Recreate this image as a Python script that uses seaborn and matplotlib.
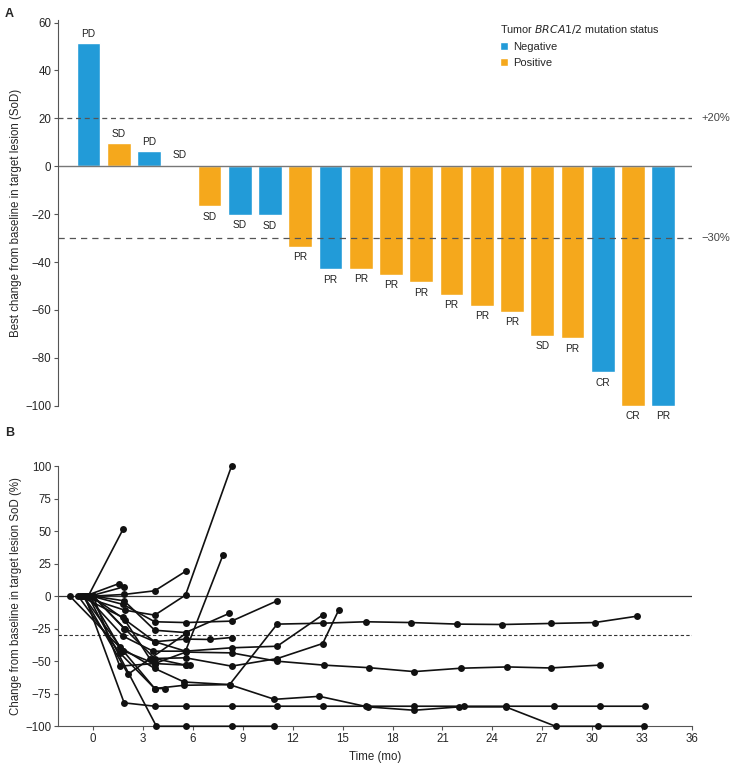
import numpy as np
import pandas as pd
import matplotlib
matplotlib.use("Agg")
import matplotlib.pyplot as plt
import seaborn as sns

# --- dados: painel A (waterfall) ---
best_change = [51.5, 9.8, 6.3, 0.7, -16.6, -20.2, -20.4, -33.5, -43.0, -42.7,
               -45.3, -48.5, -53.7, -58.3, -60.8, -70.8, -71.8, -86.0, -100.0, -100.0]
status = ["Negative", "Positive", "Negative", "Positive", "Positive", "Negative", "Negative",
          "Positive", "Negative", "Positive", "Positive", "Positive", "Positive", "Positive",
          "Positive", "Positive", "Positive", "Negative", "Positive", "Negative"]
response = ["PD", "SD", "PD", "SD", "SD", "SD", "SD", "PR", "PR", "PR",
            "PR", "PR", "PR", "PR", "PR", "SD", "PR", "CR", "CR", "PR"]

# --- dados: painel B (spider plot), um par tempo/valor por paciente ---
spider_t = [
    [-0.3, 1.8],
    [-0.5, 1.56],
    [-0.2, 1.86],
    [0.0, 1.86, 3.7, 5.57],
    [-0.7, 1.9, 3.7, 5.55, 8.32],
    [-0.1, 1.8, 3.7, 5.55, 8.32, 11.06],
    [0.0, 1.86, 3.7, 5.55, 8.17],
    [-0.4, 1.8, 3.6, 5.55, 7.8],
    [0.0, 1.86, 3.7, 5.57, 7.0, 8.32],
    [-0.6, 2.1, 5.57],
    [-0.9, 1.6, 3.7, 4.3],
    [-1.4, 1.8, 3.7, 5.47, 8.2, 10.9, 13.6, 16.5, 19.3, 22.0, 24.8, 27.8, 30.35, 33.1],
    [-0.2, 1.6, 3.7, 5.47, 8.2, 11.06, 13.8, 16.4, 19.1, 21.9, 24.6, 27.5, 30.15, 32.7],
    [-0.5, 1.86, 3.7, 5.55, 8.32, 11.06, 13.8, 16.4, 19.3, 22.3, 24.8, 27.7, 30.5, 33.2],
    [-0.3, 3.8, 5.55, 8.32, 10.9],
    [0.0, 1.9, 3.7, 5.55, 5.85],
    [-0.1, 1.9, 3.7, 5.55, 8.32, 11.06, 13.8],
    [-0.8, 1.8, 3.4, 5.55, 8.32, 11.06, 13.8, 14.75],
    [-0.6, 1.8, 3.7, 5.57, 8.32, 11.06, 13.85, 16.6, 19.3, 22.1, 24.9, 27.5, 30.45],
    [0.0, 1.6, 3.7, 5.55],
]
spider_y = [
    [0, 51.5],
    [0, 9.7],
    [0, 7.2],
    [0, 1.3, 4.1, 19.2],
    [0, -10.8, -14.6, 0.8, 100],
    [0, -6.4, -19.7, -20.3, -19.2, -3.6],
    [0, -3.6, -26.2, -28, -13.3],
    [0, -30.8, -42.3, -42.3, 31.5],
    [0, -24.9, -35, -33, -33.3, -31.8],
    [0, -60, -28.7],
    [0, -43.6, -71, -71],
    [0, -42, -71, -68.5, -68, -79.3, -77, -85.1, -87.7, -85.1, -85.1, -100, -100, -100],
    [0, -39, -55.6, -66, -68, -21.5, -20.8, -19.7, -20.3, -21.5, -21.8, -21, -20.3, -15.4],
    [0, -82, -84.6, -84.6, -84.6, -84.6, -84.6, -84.6, -84.6, -84.6, -84.6, -84.6, -84.6, -84.6],
    [0, -100, -100, -100, -100],
    [0, -25, -48, -53, -53],
    [0, -18, -35, -42.3, -39.7, -38.5, -14.4],
    [0, -16.4, -48, -47.4, -53.8, -48, -36.4, -11],
    [0, -42, -51.8, -43, -43.6, -50, -53, -55, -58, -55.4, -54.4, -55.2, -53],
    [0, -53.8, -51.8, -53],
]

cores = {"Negative": "#229BD8", "Positive": "#F5A81C"}

sns.set_theme(style="white")
plt.rcParams["font.family"] = ["Liberation Sans", "DejaVu Sans"]
plt.rcParams["axes.unicode_minus"] = True

fig = plt.figure(figsize=(7.33, 7.7), dpi=100)
axA = fig.add_axes([0.0795, 0.473, 0.8645, 0.5008])
axB = fig.add_axes([0.0795, 0.0568, 0.8645, 0.338])

# --- painel A ---
df_a = pd.DataFrame({"paciente": range(len(best_change)), "change": best_change,
                     "status": status, "resp": response})
sns.barplot(data=df_a, x="paciente", y="change", hue="status", dodge=False,
            palette=cores, width=0.78, saturation=1, ax=axA,
            hue_order=["Negative", "Positive"])
for i, (v, r) in enumerate(zip(best_change, response)):
    if v >= 0:
        axA.annotate(r, (i, v), xytext=(0, 3), textcoords="offset points",
                     ha="center", va="bottom", fontsize=7.3, color="#222222")
    else:
        axA.annotate(r, (i, v), xytext=(0, -4), textcoords="offset points",
                     ha="center", va="top", fontsize=7.3, color="#222222")

axA.set_xlim(-1.0, 19.95)
axA.set_ylim(-100, 61)
axA.axhline(0, color="#777777", linewidth=1)
axA.axhline(20, color="#555555", linewidth=0.9, linestyle=(0, (4, 3)))
axA.axhline(-30, color="#555555", linewidth=0.9, linestyle=(0, (5, 4)))
axA.text(1.015, 20, "+20%", transform=axA.get_yaxis_transform(), va="center",
         ha="left", fontsize=8, color="#444444")
axA.text(1.015, -30, "\u221230%", transform=axA.get_yaxis_transform(), va="center",
         ha="left", fontsize=8, color="#444444")
axA.set_yticks(np.arange(-100, 61, 20))
axA.set_xticks([])
axA.set_xlabel("")
axA.set_ylabel("Best change from baseline in target lesion (SoD)", fontsize=8.3, labelpad=2)
axA.tick_params(axis="y", labelsize=8.3, length=3, width=0.8, direction="out",
                color="#555555", left=True, pad=2)
for s in ["top", "right", "bottom"]:
    axA.spines[s].set_visible(False)
axA.spines["left"].set_color("#555555")
axA.spines["left"].set_linewidth(0.8)

leg = axA.legend(title="Tumor $\\it{BRCA1/2}$ mutation status", loc="upper left",
                 bbox_to_anchor=(0.69, 1.005), frameon=False, fontsize=8,
                 title_fontsize=7.8, handlelength=0.7, handleheight=0.7,
                 handletextpad=0.45, labelspacing=0.55, borderaxespad=0)
leg._legend_box.align = "left"

# --- painel B ---
linhas = []
for pid, (ts, ys) in enumerate(zip(spider_t, spider_y)):
    for t, y in zip(ts, ys):
        linhas.append({"pid": pid, "t": t, "y": y})
df_b = pd.DataFrame(linhas)

sns.lineplot(data=df_b, x="t", y="y", units="pid", estimator=None, sort=False,
             color="#111111", linewidth=1.2, marker="o", markersize=5,
             markeredgewidth=0, ax=axB, clip_on=False, zorder=3)
axB.axhline(0, color="#333333", linewidth=0.9, zorder=0)
axB.axhline(-30, color="#333333", linewidth=0.8, linestyle=(0, (3, 2)), zorder=0)
axB.set_xlim(-2.1, 36)
axB.set_ylim(-100, 100)
axB.set_xticks(np.arange(0, 37, 3))
axB.set_yticks(np.arange(-100, 101, 25))
axB.set_xlabel("Time (mo)", fontsize=8.3, labelpad=4)
axB.set_ylabel("Change from baseline in target lesion SoD (%)", fontsize=8.3, labelpad=2)
axB.tick_params(labelsize=8.3, length=3, width=0.8, direction="out",
                color="#555555", left=True, bottom=True, pad=2)
for s in ["top", "right"]:
    axB.spines[s].set_visible(False)
for s in ["left", "bottom"]:
    axB.spines[s].set_color("#555555")
    axB.spines[s].set_linewidth(0.8)

fig.text(0.007, 0.99, "A", fontsize=9, fontweight="bold", va="top")
fig.text(0.007, 0.445, "B", fontsize=9, fontweight="bold", va="top")

fig.savefig("out.png", dpi=100)
